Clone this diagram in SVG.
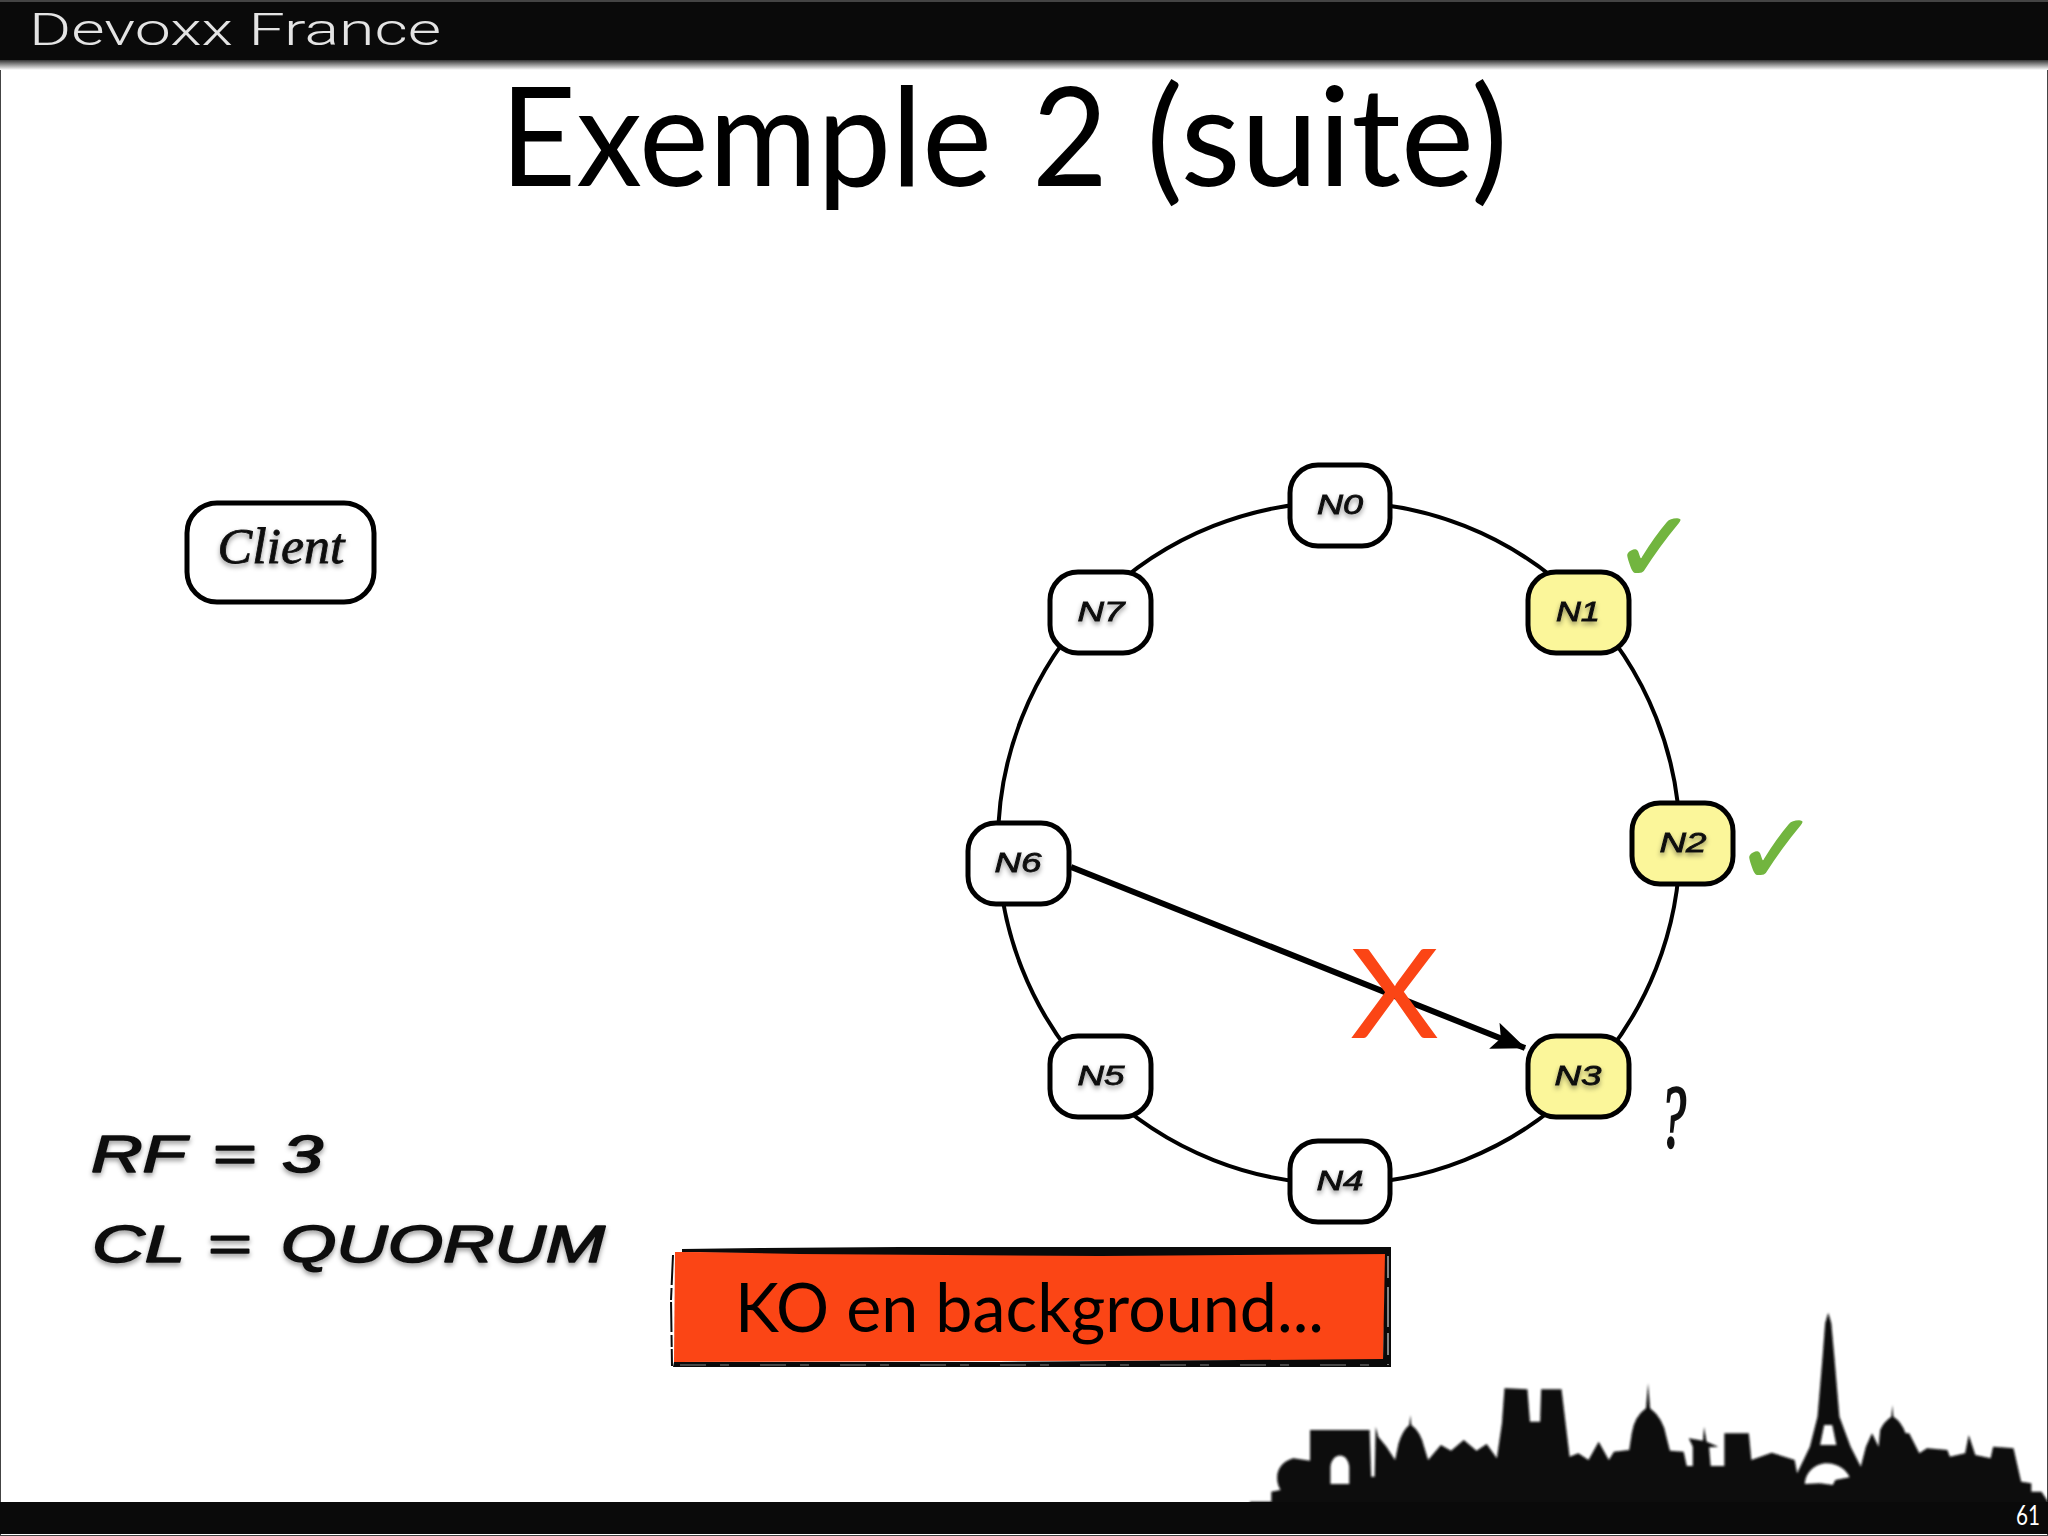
<svg xmlns="http://www.w3.org/2000/svg" width="2048" height="1536" viewBox="0 0 2048 1536">
<style>
.gill{font-family:Lato,"Liberation Sans",sans-serif}
.node rect{stroke:#000;stroke-width:5;fill:#fff}
.node.on rect{fill:#fbf69a}
.node text{font-family:"Liberation Sans",sans-serif;font-style:italic;font-size:27px;fill:#111;stroke:#111;stroke-width:.8;text-anchor:middle;filter:url(#ts)}
.hand{font-family:"Liberation Sans",sans-serif;font-style:italic;fill:#111;stroke:#111;stroke-width:1.6;stroke-linejoin:round;filter:url(#ts)}
.check{font-family:"DejaVu Sans",sans-serif;font-size:100px;fill:#72b53f;stroke:#72b53f;stroke-width:1.5}
</style>
<defs>
<filter id="ts" x="-20%" y="-30%" width="140%" height="170%"><feDropShadow dx="0" dy="3" stdDeviation="2.5" flood-color="#000" flood-opacity=".4"/></filter>
<filter id="soft" x="-2%" y="-5%" width="104%" height="110%"><feGaussianBlur stdDeviation="1.2"/></filter>
<linearGradient id="bar" x1="0" y1="0" x2="0" y2="1"><stop offset="0" stop-color="#333"/><stop offset="1" stop-color="#fff"/></linearGradient>
<marker id="head" viewBox="0 0 34 28" refX="33" refY="14" markerWidth="34" markerHeight="28" markerUnits="userSpaceOnUse" orient="auto"><path d="M0 0L34 14L0 28L7 14Z" fill="#000"/></marker>
</defs>
<rect width="2048" height="1536" fill="#fff"/>
<rect x="0" y="0" width="2048" height="1536" fill="none" stroke="#444" stroke-width="2"/>
<g id="header">
<rect width="2048" height="60" fill="#0a0a0a"/>
<rect y="0" width="2048" height="2" fill="#444"/>
<rect y="60" width="2048" height="10" fill="url(#bar)"/>
<text x="29" y="45" font-family="Roboto,sans-serif" font-weight="300" font-size="44" fill="#e4e4e4" textLength="412" lengthAdjust="spacingAndGlyphs">Devoxx France</text>
</g>
<text id="title" class="gill" y="186" font-size="137" fill="#000"><tspan x="500" textLength="492" lengthAdjust="spacingAndGlyphs">Exemple</tspan> <tspan x="1032" textLength="76" lengthAdjust="spacingAndGlyphs">2</tspan> <tspan x="1146" textLength="362" lengthAdjust="spacingAndGlyphs">(suite)</tspan></text>
<g id="skyline" filter="url(#soft)">
<g transform="translate(1250 1290) scale(.509 .3333)">
<path fill="#0a0a0a" fill-rule="evenodd" d="M0 635L42 635L42 605L60 600C48 570 50 520 85 505L118 512L118 420L235 420L238 560L245 560L247 410L252 440L268 470L285 510L292 460Q300 420 313 405L315 375L317 405Q335 425 342 470L350 510L375 465L395 482L420 450L445 482L465 462L485 505L495 400L500 295L545 298L550 395L570 395L572 298L612 298L620 400L628 500L645 490L665 510L685 455L705 510L715 485L745 480L750 430Q755 380 778 355L782 280L786 355Q812 385 818 440L825 482L852 485L858 528L870 528L870 470L862 445L890 452L892 410L897 455L920 470L902 472L905 528L932 528L932 430L980 430L985 510L1025 488L1070 510L1075 550L1100 470L1115 380L1125 200L1130 100L1136 68L1142 100L1148 200L1158 380L1180 470L1200 530L1210 470L1222 430L1235 470L1238 420Q1245 395 1260 380L1262 345L1264 380Q1280 395 1288 430L1295 430L1315 490L1330 475L1370 480L1375 500L1405 490L1412 435L1425 495L1455 505L1460 470L1500 475L1515 575L1535 580L1535 605L1555 605L1568 635L1568 690L0 690Z M158 582L158 530C162 485 192 485 195 530L195 582Z M1120 465L1128 405L1144 405L1152 465Z M1090 582C1092 540 1115 520 1133 520C1155 520 1172 540 1178 562L1150 570L1145 585L1120 580Z"/>
</g>
</g>
<rect id="footer" y="1502" width="2048" height="32" fill="#0a0a0a"/>
<text id="page" class="gill" x="2016" y="1525" font-size="27" fill="#fff" textLength="24" lengthAdjust="spacingAndGlyphs">61</text>
<g id="connectors" fill="none" stroke="#000">
<circle cx="1339" cy="843" r="341" stroke-width="4"/>
<line x1="1071" y1="867" x2="1525" y2="1048" stroke-width="6" marker-end="url(#head)"/>
</g>
<g id="n0" class="node"><rect x="1290" y="465" width="100" height="81" rx="28"/><text x="1340" y="514" textLength="46" lengthAdjust="spacingAndGlyphs">N0</text></g>
<g id="n1" class="node on"><rect x="1528" y="572" width="101" height="81" rx="28"/><text x="1578" y="621" textLength="44" lengthAdjust="spacingAndGlyphs">N1</text></g>
<g id="n2" class="node on"><rect x="1632" y="803" width="101" height="81" rx="28"/><text x="1683" y="852" textLength="47" lengthAdjust="spacingAndGlyphs">N2</text></g>
<g id="n3" class="node on"><rect x="1528" y="1036" width="101" height="81" rx="28"/><text x="1578" y="1085" textLength="47" lengthAdjust="spacingAndGlyphs">N3</text></g>
<g id="n4" class="node"><rect x="1290" y="1141" width="100" height="81" rx="28"/><text x="1340" y="1190" textLength="47" lengthAdjust="spacingAndGlyphs">N4</text></g>
<g id="n5" class="node"><rect x="1050" y="1036" width="101" height="81" rx="28"/><text x="1101" y="1085" textLength="47" lengthAdjust="spacingAndGlyphs">N5</text></g>
<g id="n6" class="node"><rect x="968" y="823" width="101" height="81" rx="28"/><text x="1018" y="872" textLength="47" lengthAdjust="spacingAndGlyphs">N6</text></g>
<g id="n7" class="node"><rect x="1050" y="572" width="101" height="81" rx="28"/><text x="1101" y="621" textLength="47" lengthAdjust="spacingAndGlyphs">N7</text></g>
<g id="client" class="node"><rect x="187" y="503" width="187" height="99" rx="30"/><text x="281" y="563" style="font-family:'Liberation Serif',serif;font-size:50px" textLength="127" lengthAdjust="spacingAndGlyphs">Client</text></g>
<text id="x" class="gill" x="1350" y="1038" font-size="124" fill="#fb4515" textLength="89" lengthAdjust="spacingAndGlyphs">X</text>
<text id="check1" class="check" x="1613" y="582">✓</text>
<text id="check2" class="check" x="1735" y="884">✓</text>
<text id="question" x="1660" y="1146" font-family="Liberation Serif,serif" font-style="italic" font-size="88" fill="#111" stroke="#111" stroke-width="2.5" textLength="26" lengthAdjust="spacingAndGlyphs">?</text>
<text id="rf" class="hand" y="1172" font-size="52"><tspan x="91" textLength="94" lengthAdjust="spacingAndGlyphs">RF</tspan> <tspan x="212" textLength="44" lengthAdjust="spacingAndGlyphs">=</tspan> <tspan x="282" textLength="41" lengthAdjust="spacingAndGlyphs">3</tspan></text>
<text id="cl" class="hand" y="1262" font-size="52"><tspan x="92" textLength="92" lengthAdjust="spacingAndGlyphs">CL</tspan> <tspan x="207" textLength="44" lengthAdjust="spacingAndGlyphs">=</tspan> <tspan x="281" textLength="324" lengthAdjust="spacingAndGlyphs">QUORUM</tspan></text>
<g id="ko">
<polygon points="675,1252 1386,1253 1383,1360 674,1362" fill="#fb4515"/>
<polygon points="682,1249 760,1248 900,1247 1100,1247 1391,1247 1390,1254 1100,1256 800,1254 700,1252 682,1252" fill="#0a0a0a"/>
<polygon points="1385,1250 1391,1247 1391,1367 1383,1367 1383,1360 1385,1253" fill="#0a0a0a"/>
<polygon points="673,1367 1391,1367 1391,1359 1383,1359 1000,1362 674,1362" fill="#0a0a0a"/>
<path d="M673 1255L671 1300L672 1366" fill="none" stroke="#0a0a0a" stroke-width="2" stroke-dasharray="30 3 12 2"/>
<path d="M680 1365H1390" fill="none" stroke="#fff" stroke-width="1" stroke-opacity=".5" stroke-dasharray="26 14 9 31"/>
<path d="M1388 1256V1365" fill="none" stroke="#fff" stroke-width="1" stroke-dasharray="22 9 40 6"/>
<text class="gill" x="735" y="1332" font-size="68" fill="#000" textLength="589" lengthAdjust="spacingAndGlyphs">KO en background...</text>
</g>
</svg>
